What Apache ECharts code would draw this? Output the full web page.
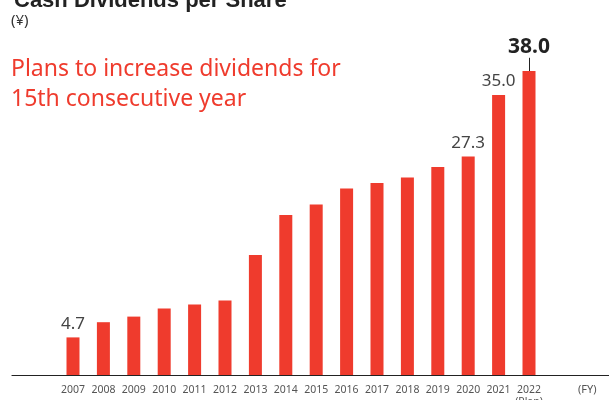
<!DOCTYPE html>
<html>
<head>
<meta charset="utf-8">
<script src="https://cdn.jsdelivr.net/npm/echarts@6/dist/echarts.min.js"></script>
<style>
  html, body { margin: 0; padding: 0; background: #fff; }
  #chart { width: 609px; height: 400px; }
</style>
</head>
<body>
<div id="chart"></div>
<script>
// Fiscal years and cash dividends per share (yen)
const years = ['2007', '2008', '2009', '2010', '2011', '2012', '2013', '2014',
               '2015', '2016', '2017', '2018', '2019', '2020', '2021', '2022'];
const tickLabels = ['2007', '2008', '2009', '2010', '2011', '2012', '2013', '2014',
                    '2015', '2016', '2017', '2018', '2019', '2020', '2021', '2022\n(Plan)'];
const dividends = [4.7, 6.6, 7.3, 8.3, 8.8, 9.3, 15.0, 20.0,
                   21.3, 23.3, 24.0, 24.7, 26.0, 27.3, 35.0, 38.0];
// Years whose value is printed above the bar
const labelledYears = ['2007', '2020', '2021'];
const planYear = '2022';

const RED = '#ef3b2d';
const FONT = '"Noto Sans", sans-serif';

const planIndex = years.indexOf(planYear);
const planValue = dividends[planIndex];

const barData = dividends.map((v, i) => {
  const y = years[i];
  if (y === planYear) {
    return {
      value: v,
      label: {
        show: true, position: 'top', distance: 13,
        fontSize: 21, fontWeight: 'bold', color: '#222', fontFamily: FONT,
        formatter: p => p.value.toFixed(1)
      }
    };
  }
  if (labelledYears.includes(y)) {
    return {
      value: v,
      label: {
        show: true, position: 'top', distance: 5,
        fontSize: 17, color: '#444', fontFamily: FONT,
        formatter: p => p.value.toFixed(1)
      }
    };
  }
  return v;
});

const chart = echarts.init(document.getElementById('chart'), null, { renderer: 'canvas' });
chart.setOption({
  animation: false,
  backgroundColor: '#fff',
  title: [
    {
      text: 'Cash Dividends per Share', left: 9, top: -15,
      textStyle: { fontFamily: '"Liberation Sans", Arial, sans-serif', fontSize: 22, fontWeight: 'bold', color: '#222' }
    },
    {
      text: '(¥)', left: 11, top: 13, padding: 0,
      textStyle: { fontFamily: FONT, fontSize: 15, fontWeight: 'normal', color: '#333' }
    },
    {
      text: 'Plans to increase dividends for\n15th consecutive year', left: 11, top: 54, padding: 0,
      textStyle: { fontFamily: FONT, fontSize: 23, lineHeight: 30, fontWeight: 'normal', color: RED }
    },
    {
      text: '(FY)', left: 578, top: 384, padding: 0,
      textStyle: { fontFamily: FONT, fontSize: 11, fontWeight: 'normal', color: '#555' }
    }
  ],
  grid: [
    { left: 57.8, right: 64.8, top: 55, bottom: 25, containLabel: false, outerBoundsMode: 'none' },
    { left: 12, right: 0, top: 55, bottom: 25, containLabel: false, outerBoundsMode: 'none' }
  ],
  xAxis: [
    {
      type: 'category', gridIndex: 0, data: years,
      axisLine: { show: false }, axisTick: { show: false },
      axisLabel: {
        margin: 9, fontSize: 10.5, lineHeight: 12, color: '#555', fontFamily: FONT,
        interval: 0, formatter: (val, idx) => tickLabels[idx]
      }
    },
    {
      type: 'value', gridIndex: 1, min: 0, max: 1,
      axisLine: { show: true, lineStyle: { color: '#222', width: 1.2 } },
      axisTick: { show: false }, axisLabel: { show: false }, splitLine: { show: false }
    }
  ],
  yAxis: [
    { type: 'value', gridIndex: 0, min: 0, max: 40, show: false, splitLine: { show: false } },
    { type: 'value', gridIndex: 1, min: 0, max: 1, show: false, splitLine: { show: false } }
  ],
  series: [
    {
      type: 'bar', xAxisIndex: 0, yAxisIndex: 0,
      data: barData, barWidth: 13,
      itemStyle: { color: RED },
      label: { show: false },
      // Leader line joining the plan bar to its value label
      markLine: {
        silent: true, symbol: 'none', label: { show: false },
        lineStyle: { color: '#222', width: 1, type: 'solid' },
        data: [[{ xAxis: planYear, yAxis: planValue }, { xAxis: planYear, yAxis: planValue + 1.65 }]]
      }
    }
  ]
});
</script>
</body>
</html>
